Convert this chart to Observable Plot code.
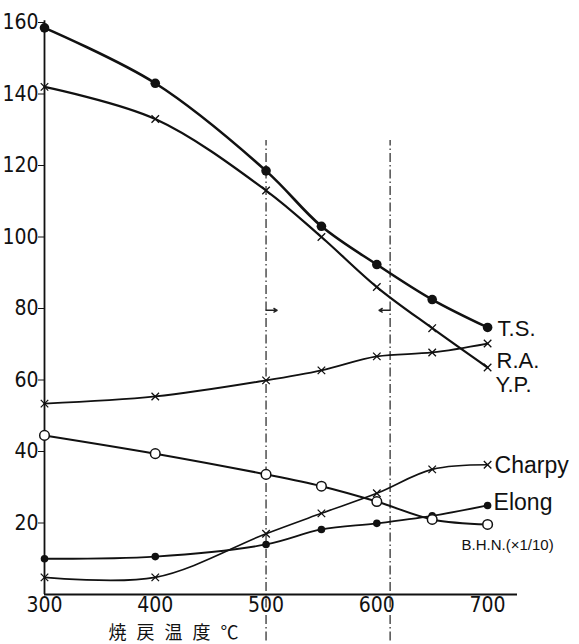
<!DOCTYPE html>
<html>
<head>
<meta charset="utf-8">
<script src="https://cdn.jsdelivr.net/npm/d3@7"></script>
<script src="https://cdn.jsdelivr.net/npm/@observablehq/plot@0.6"></script>
<style>
  html, body { margin: 0; padding: 0; background: #fff; }
  #chart svg { display: block; }
</style>
</head>
<body>
<div id="chart"></div>
<script>
// Tempering temperature (°C)
const temperature = [300, 400, 500, 550, 600, 650, 700];
// Series values
const tensileStrength = [158.5, 143, 118.5, 103, 92.3, 82.5, 74.7];   // T.S.
const yieldPoint      = [142, 133, 113, 100, 86, 74.5, 63.5];         // Y.P.
const reductionOfArea = [53.4, 55.4, 59.9, 62.7, 66.6, 67.7, 70.2];   // R.A.
const charpy          = [4.8, 4.8, 17, 22.7, 28.3, 35, 36.3];         // Charpy
const elongation      = [10, 10.6, 14, 18.2, 19.9, 22, 24.9];         // Elong
const bhn             = [44.5, 39.4, 33.6, 30.3, 26, 21, 19.6];       // B.H.N. (x 1/10)

const xTicks = [300, 400, 500, 600, 700];
const yTicks = [20, 40, 60, 80, 100, 120, 140, 160];
const criticalTemps = [500, 612];   // dash-dot reference lines
const xLabel = "焼戻温度℃";

const seriesNames = ["T.S.", "R.A.", "Y.P.", "Charpy", "Elong", "B.H.N.(×1/10)"];

function rows(values) { return temperature.map((t, i) => ({t, v: values[i]})); }
const TS = rows(tensileStrength), YP = rows(yieldPoint), RA = rows(reductionOfArea);
const CH = rows(charpy), EL = rows(elongation), BH = rows(bhn);
const last = (d) => [d[d.length - 1]];

const font = "'DejaVu Sans Condensed', 'Liberation Sans', sans-serif";
const lineOpts = (w) => ({x: "t", y: "v", curve: "catmull-rom", stroke: "#111", strokeWidth: w});
const labelOpts = (name, dx, dy, size) => ({
  x: "t", y: "v", text: () => name, textAnchor: "start", dx, dy,
  fontSize: size, fill: "#111", fontFamily: "'Liberation Sans', 'DejaVu Sans', sans-serif"
});

const chart = Plot.plot({
  width: 579,
  height: 644,
  marginLeft: 44,
  marginRight: 62,
  marginTop: 22,
  marginBottom: 50,
  style: {background: "#fff", color: "#111", fontFamily: font},
  x: {domain: [300, 727]},
  y: {domain: [0, 160]},
  marks: [
    // dash-dot reference lines
    Plot.ruleX(criticalTemps, {y1: -13, y2: 127, stroke: "#222", strokeWidth: 1.2, strokeDasharray: "9,3,1.5,3"}),
    Plot.arrow([{x1: 500, x2: 510}], {x1: "x1", x2: "x2", y1: 79.5, y2: 79.5, stroke: "#222", strokeWidth: 1.4, headLength: 5}),
    Plot.arrow([{x1: 612, x2: 602}], {x1: "x1", x2: "x2", y1: 79.5, y2: 79.5, stroke: "#222", strokeWidth: 1.4, headLength: 5}),
    // axes lines
    Plot.ruleX([300], {y1: 0, y2: 160.5, stroke: "#111", strokeWidth: 1.8}),
    Plot.ruleY([0], {x1: 300, x2: 727, stroke: "#111", strokeWidth: 1.8}),
    Plot.axisY({ticks: yTicks, tickSize: 6, tickPadding: 0, fontSize: 21, label: null, fontFamily: font}),
    Plot.axisX({ticks: xTicks, tickSize: 0, tickPadding: 3, fontSize: 21, label: null, fontFamily: font}),
    Plot.text([xLabel], {frameAnchor: "bottom-left", dx: 64, dy: 39, lineAnchor: "middle", textAnchor: "start",
      fontSize: 18, fontFamily: "'Noto Sans CJK JP', sans-serif", fill: "#111"}),

    // curves
    Plot.line(TS, lineOpts(2.6)),
    Plot.line(YP, lineOpts(2.2)),
    Plot.line(RA, lineOpts(1.8)),
    Plot.line(CH, lineOpts(1.6)),
    Plot.line(EL, lineOpts(1.8)),
    Plot.line(BH, lineOpts(2.0)),

    // markers
    Plot.dot(TS, {x: "t", y: "v", r: 4.8, fill: "#111"}),
    Plot.dot(YP, {x: "t", y: "v", r: 3.5, symbol: "times", stroke: "#111", strokeWidth: 1.3}),
    Plot.dot(RA, {x: "t", y: "v", r: 3.5, symbol: "times", stroke: "#111", strokeWidth: 1.3}),
    Plot.dot(CH, {x: "t", y: "v", r: 3.5, symbol: "times", stroke: "#111", strokeWidth: 1.3}),
    Plot.dot(EL, {x: "t", y: "v", r: 3.8, fill: "#111"}),
    Plot.dot(BH, {x: "t", y: "v", r: 4.8, fill: "#fff", stroke: "#111", strokeWidth: 1.5}),

    // series labels
    Plot.text(last(TS), labelOpts(seriesNames[0], 10, 2, 22)),
    Plot.text(last(RA), labelOpts(seriesNames[1], 9, 17, 22)),
    Plot.text(last(YP), labelOpts(seriesNames[2], 8, 17, 22)),
    Plot.text(last(CH), labelOpts(seriesNames[3], 7, 1, 23)),
    Plot.text(last(EL), labelOpts(seriesNames[4], 6, -3, 23)),
    Plot.text(last(BH), labelOpts(seriesNames[5], -26, 21, 15))
  ]
});
d3.select(chart).selectAll("text")
  .filter(function () { return this.textContent === xLabel; })
  .style("letter-spacing", "10px");
document.getElementById("chart").appendChild(chart);
</script>
</body>
</html>
